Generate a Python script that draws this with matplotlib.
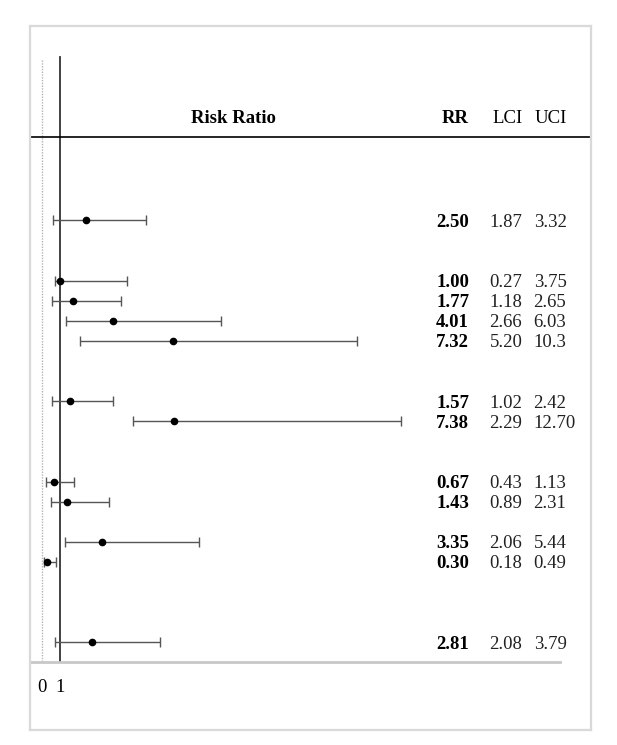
import numpy as np
import matplotlib.pyplot as plt

# forest plot values
rr  = [2.50, 1.00, 1.77, 4.01, 7.32, 1.57, 7.38, 0.67, 1.43, 3.35, 0.30, 2.81]
lci = [1.87, 0.27, 1.18, 2.66, 5.20, 1.02, 2.29, 0.43, 0.89, 2.06, 0.18, 2.08]
uci = [3.32, 3.75, 2.65, 6.03, 10.3, 2.42, 12.70, 1.13, 2.31, 5.44, 0.49, 3.79]
uci_txt = ['3.32', '3.75', '2.65', '6.03', '10.3', '2.42', '12.70', '1.13', '2.31', '5.44', '0.49', '3.79']
rows = [0, 3, 4, 5, 6, 9, 10, 13, 14, 16, 17, 21]  # row index, blank rows between groups
xticks = [0, 1]

plt.rcParams['font.family'] = ['Liberation Serif', 'DejaVu Serif']
fs = 13.5
dy = 0.1  # nudge text down a little

fig = plt.figure(figsize=(6.17, 7.45), dpi=100)
ax = fig.add_axes([30/617, 1-730/745, (590.7-30)/617, (730-25.7)/745])
ax.set_xlim(-0.654, 30.67)
ax.set_ylim(25.36, -9.68)
ax.set_xticks([])
ax.set_yticks([])
for s in ax.spines.values():
	s.set_color('#d9d9d9')
	s.set_linewidth(1.6)

# reference lines
ax.plot([0, 0], [-7.98, 22], color='#b4b4b4', lw=1, ls=(0, (1, 1)))
ax.plot([1, 1], [-8.1, 22], color='#333333', lw=1.3)
ax.axhline(-4.16, color='black', lw=1.2)
ax.plot([-0.654, 28.95], [22, 22], color='#c8c8c8', lw=2)

# error bars (whiskers drawn as rr-lci .. rr+uci)
ax.errorbar(rr, rows, xerr=[lci, uci], fmt='o', color='black', ms=4.5,
	ecolor='#555555', elinewidth=1, capsize=3.6, capthick=1)

# header
ax.text(10.69, -5.15+dy, 'Risk Ratio', ha='center', va='center', fontsize=fs, fontweight='bold')
ax.text(23.09, -5.15+dy, 'RR', ha='center', va='center', fontsize=fs, fontweight='bold')
ax.text(26.05, -5.15+dy, 'LCI', ha='center', va='center', fontsize=fs)
ax.text(28.44, -5.15+dy, 'UCI', ha='center', va='center', fontsize=fs)

# value columns
for i in range(len(rr)):
	ax.text(22.03, rows[i]+dy, '%.2f' % rr[i], ha='left', va='center', fontsize=fs, fontweight='bold')
	ax.text(25.02, rows[i]+dy, '%.2f' % lci[i], ha='left', va='center', fontsize=fs, color='#222222')
	ax.text(27.48, rows[i]+dy, uci_txt[i], ha='left', va='center', fontsize=fs, color='#222222')

for t in xticks:
	ax.text(t, 23.15+dy, str(t), ha='center', va='center', fontsize=fs)

fig.savefig('out.png', dpi=100)
